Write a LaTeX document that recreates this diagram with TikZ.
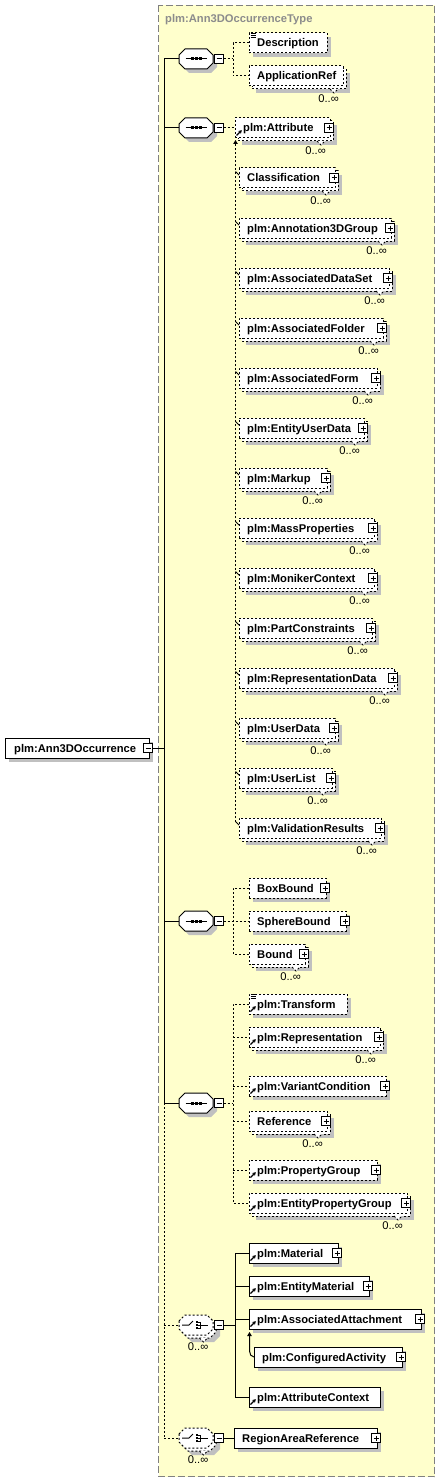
\documentclass[tikz,border=0pt]{standalone}
\usepackage{fontspec}
\setmainfont{Liberation Sans}
\usetikzlibrary{arrows.meta}
\definecolor{bgyellow}{RGB}{255,255,204}
\definecolor{shadowgray}{RGB}{192,192,192}
\definecolor{framegray}{RGB}{128,128,128}
\definecolor{titlegray}{RGB}{140,140,140}
\tikzset{
  lw/.style={line width=1pt},
  dsh/.style={dash pattern=on 2pt off 2pt},
  conn/.style={lw, black},
  dconn/.style={conn, dsh},
  elembox/.style={draw=black, lw, fill=white, minimum height=20pt, inner sep=0pt, outer sep=0pt, anchor=west},
  elemtext/.style={inner sep=0pt, anchor=base west, font=\fontsize{11.2}{13}\selectfont\bfseries},
  occtext/.style={inner sep=0pt, anchor=base east, font=\fontsize{11.2}{13}\selectfont},
  btnbox/.style={draw=black, solid, lw, fill=white, minimum size=9pt, inner sep=0pt, outer sep=0pt},
  plusbtn/.style={btnbox, path picture={
      \draw[black,lw,solid] ([xshift=2pt]path picture bounding box.west) -- ([xshift=-2pt]path picture bounding box.east);
      \draw[black,lw,solid] ([yshift=-2pt]path picture bounding box.north) -- ([yshift=2pt]path picture bounding box.south);}},
  minusbtn/.style={btnbox, path picture={
      \draw[black,lw,solid] ([xshift=2pt]path picture bounding box.west) -- ([xshift=-2pt]path picture bounding box.east);}},
  compnode/.style={inner sep=0pt, outer sep=0pt, minimum width=34pt, minimum height=20pt},
  subarrow/.style={-{Triangle[length=4pt,width=4.5pt]}},
}
% element box, single: name, left, right, cy, style, text
\newcommand\Elem[6]{%
  \pgfmathsetmacro\elw{#3-#2}%
  \fill[shadowgray] (#2+4,#4-6) rectangle (#3+4,#4+14);
  \node[elembox,#5,minimum width=\elw pt] (#1) at (#2,#4) {};
  \node[elemtext] (#1-t) at ([xshift=8pt,yshift=-4pt]#1.west) {#6};
}
% element box, multiple occurrence 0..inf
\newcommand\ElemM[6]{%
  \pgfmathsetmacro\elw{#3-#2}%
  \fill[shadowgray] (#2+7,#4-3) rectangle (#3+7,#4+17);
  \draw[lw,fill=white,#5] (#2+3,#4-7) rectangle (#3+3,#4+13);
  \filldraw[lw,fill=white,#5] (#3-13,#4+13) -- (#3-9,#4+17) -- (#3-5,#4+13);
  \node[elembox,#5,minimum width=\elw pt] (#1) at (#2,#4) {};
  \node[elemtext] (#1-t) at ([xshift=8pt,yshift=-4pt]#1.west) {#6};
  \node[occtext] (#1-o) at (#3-4,#4+26.5) {0..∞};
}
\newcommand\Plus[3]{\node[plusbtn] (#1) at (#2,#3) {};}
\newcommand\RefArrow[2]{\draw[black,line width=1.1pt,solid,-{Stealth[length=3.4pt,width=4pt]}] (#1+1.5,#2+7.5) -- (#1+6.8,#2+2.2);}
\newcommand\SimpIcon[2]{\foreach \d in {0.5,2.5,4.5}{\draw[black,line width=0.8pt,solid] (#1+1.5,#2-10+\d) -- (#1+6.5,#2-10+\d);}}
\newcommand\OctPath[3]{\path[#3] (#1-17,#2-4) -- (#1-11,#2-10) -- (#1+11,#2-10) -- (#1+17,#2-4) -- (#1+17,#2+4) -- (#1+11,#2+10) -- (#1-11,#2+10) -- (#1-17,#2+4) -- cycle;}
% sequence compositor: name, cy
\newcommand\Seq[2]{%
  \OctPath{200}{#2+4}{fill=shadowgray}
  \OctPath{196}{#2}{draw=black,lw,fill=white}
  \node[compnode] (#1) at (196,#2) {};
  \draw[black,lw] (185.5,#2) -- (207,#2);
  \foreach \dx in {-4,0,4}{\fill[black] (196.5+\dx-1.5,#2-1.5) rectangle (196.5+\dx+1.5,#2+1.5);}
  \node[minusbtn] (#1-b) at (219,#2) {};
}
% choice compositor, optional, 0..inf: name, cy
\newcommand\ChoiceM[2]{%
  \OctPath{203}{#2+7}{fill=shadowgray}
  \OctPath{199}{#2+3}{draw=black,lw,dsh,fill=white}
  \filldraw[lw,dsh,fill=white] (199.5,#2+13) -- (203.5,#2+17) -- (207.5,#2+13);
  \OctPath{196}{#2}{draw=black,lw,dsh,fill=white}
  \node[compnode] (#1) at (196,#2) {};
  \draw[black,lw] (182,#2) -- (189,#2) -- (193,#2-4);
  \foreach \dy in {-3,0,3}{\fill[black] (196,#2+\dy-1.1) rectangle (198.4,#2+\dy+1.1);}
  \draw[black,lw] (198.4,#2-3) -- (200,#2-3) -- (200,#2+3) -- (198.4,#2+3);
  \draw[black,lw] (198.4,#2) -- (207.5,#2);
  \node[occtext] (#1-o) at (208.5,#2+25.5) {0..∞};
  \node[minusbtn] (#1-b) at (219,#2) {};
}
\begin{document}
\begin{tikzpicture}[x=1pt,y=-1pt]
\useasboundingbox (0,0) rectangle (440,1482);
\draw[framegray, fill=bgyellow, line width=1pt, dash pattern=on 7pt off 3pt] (158.5,5.5) rectangle (434.5,1476.5);
\node[anchor=base west, inner sep=0pt, text=titlegray, font=\fontsize{11.2}{13}\selectfont\bfseries] (title) at (165,23) {plm:Ann3DOccurrenceType};

% ---------- main element
\fill[shadowgray] (9,742) rectangle (153,762);
\node[elembox, solid, minimum width=144pt] (main) at (5,748) {};
\node[elemtext] (main-t) at ([xshift=9pt,yshift=-4pt]main.west) {plm:Ann3DOccurrence};
\node[minusbtn] (main-b) at (148,748) {};

% ---------- trunk
\coordinate (tr-1) at (164,59);
\coordinate (tr-2) at (164,128);
\coordinate (tr-3) at (164,921);
\coordinate (tr-4) at (164,1103);
\coordinate (tr-5) at (164,1325);
\coordinate (tr-6) at (164,1438);
\coordinate (tr-m) at (164,748);

% ---------- compositors
\Seq{seq1}{59}
\Seq{seq2}{128}
\Seq{seq3}{921}
\Seq{seq4}{1103}
\ChoiceM{ch1}{1325}
\ChoiceM{ch2}{1438}

\draw[conn] (main-b.east) -- (tr-m);
\draw[conn] (tr-1) -- (tr-4);
\draw[dconn] (tr-4) -- (tr-6);
\draw[conn] (tr-1) -- (seq1.west);
\draw[conn] (tr-2) -- (seq2.west);
\draw[conn] (tr-3) -- (seq3.west);
\draw[conn] (tr-4) -- (seq4.west);
\draw[dconn] (tr-5) -- (ch1.west);
\draw[dconn] (tr-6) -- (ch2.west);

% ---------- sequence 1
\Elem{desc}{249}{327}{43}{dsh}{Description}
\SimpIcon{249}{43}
\ElemM{appref}{249}{343}{76}{dsh}{ApplicationRef}
\coordinate (j1) at (233,59);
\draw[dconn] (seq1-b.east) -- (j1);
\draw[dconn] (desc.west) -- (desc.west -| j1) -- (appref.west -| j1) -- (appref.west);

% ---------- sequence 2 (substitution group plm:Attribute)
\ElemM{attr}{235}{330}{128}{dsh}{plm:Attribute}
\Plus{attr-b}{329}{128}
\RefArrow{235}{128}
\draw[dconn] (seq2-b.east) -- (attr.west);

\ElemM{classif}{239}{335}{178}{dsh}{Classification}\Plus{classif-b}{334}{178}
\ElemM{annot}{239}{391}{228}{dsh}{plm:Annotation3DGroup}\Plus{annot-b}{390}{228}
\ElemM{adset}{239}{389}{278}{dsh}{plm:AssociatedDataSet}\Plus{adset-b}{388}{278}
\ElemM{afold}{239}{383}{328}{dsh}{plm:AssociatedFolder}\Plus{afold-b}{382}{328}
\ElemM{aform}{239}{377}{378}{dsh}{plm:AssociatedForm}\Plus{aform-b}{376}{378}
\ElemM{euser}{239}{364}{428}{dsh}{plm:EntityUserData}\Plus{euser-b}{363}{428}
\ElemM{markup}{239}{327}{478}{dsh}{plm:Markup}\Plus{markup-b}{326}{478}
\ElemM{mass}{239}{374}{528}{dsh}{plm:MassProperties}\Plus{mass-b}{373}{528}
\ElemM{moniker}{239}{374}{578}{dsh}{plm:MonikerContext}\Plus{moniker-b}{373}{578}
\ElemM{partc}{239}{372}{628}{dsh}{plm:PartConstraints}\Plus{partc-b}{371}{628}
\ElemM{repd}{239}{394}{678}{dsh}{plm:RepresentationData}\Plus{repd-b}{393}{678}
\ElemM{userd}{239}{335}{728}{dsh}{plm:UserData}\Plus{userd-b}{334}{728}
\ElemM{userl}{239}{332}{778}{dsh}{plm:UserList}\Plus{userl-b}{331}{778}
\ElemM{valid}{239}{381}{828}{dsh}{plm:ValidationResults}\Plus{valid-b}{380}{828}

\coordinate (sg-top) at (235.5,140);
\draw[dconn,subarrow] ([shift={(-3.5,-6)}]valid.west) -- (sg-top);
\foreach \m in {classif,annot,adset,afold,aform,euser,markup,mass,moniker,partc,repd,userd,userl,valid}{
  \draw[black,line width=0.8pt] ([shift={(-3.5,-6.5)}]\m.west) -- ([shift={(0,-3)}]\m.west);
}

% ---------- sequence 3
\Elem{boxb}{249}{326}{888}{dsh}{BoxBound}\Plus{boxb-b}{325}{888}
\Elem{sphere}{249}{346}{921}{dsh}{SphereBound}\Plus{sphere-b}{345}{921}
\ElemM{bound}{249}{305}{954}{dsh}{Bound}\Plus{bound-b}{304}{954}
\coordinate (j3) at (233,921);
\draw[dconn] (seq3-b.east) -- (sphere.west);
\draw[dconn] (boxb.west) -- (boxb.west -| j3) -- (bound.west -| j3) -- (bound.west);

% ---------- sequence 4
\Elem{transf}{249}{347}{1004}{dsh}{plm:Transform}
\SimpIcon{249}{1004}\RefArrow{249}{1004}
\ElemM{repr}{249}{380}{1037}{dsh}{plm:Representation}\Plus{repr-b}{379}{1037}\RefArrow{249}{1037}
\Elem{variant}{249}{386}{1086}{dsh}{plm:VariantCondition}\Plus{variant-b}{385}{1086}\RefArrow{249}{1086}
\ElemM{refer}{249}{327}{1121}{dsh}{Reference}\Plus{refer-b}{326}{1121}
\Elem{propg}{249}{377}{1170}{dsh}{plm:PropertyGroup}\Plus{propg-b}{376}{1170}\RefArrow{249}{1170}
\ElemM{epropg}{249}{407}{1203}{dsh}{plm:EntityPropertyGroup}\Plus{epropg-b}{406}{1203}\RefArrow{249}{1203}
\coordinate (j4) at (233,1103);
\draw[dconn] (seq4-b.east) -- (j4);
\draw[dconn] (transf.west) -- (transf.west -| j4) -- (epropg.west -| j4) -- (epropg.west);
\foreach \m in {repr,variant,refer,propg}{\draw[dconn] (\m.west -| j4) -- (\m.west);}

% ---------- choice 1
\Elem{mat}{249}{338}{1253}{solid}{plm:Material}\Plus{mat-b}{337}{1253}\RefArrow{249}{1253}
\Elem{emat}{249}{369}{1286}{solid}{plm:EntityMaterial}\Plus{emat-b}{368}{1286}\RefArrow{249}{1286}
\Elem{aatt}{249}{421}{1319}{solid}{plm:AssociatedAttachment}\Plus{aatt-b}{420}{1319}\RefArrow{249}{1319}
\Elem{cact}{254}{402}{1357}{solid}{plm:ConfiguredActivity}\Plus{cact-b}{401}{1357}
\Elem{actx}{249}{380}{1397}{solid}{plm:AttributeContext}\RefArrow{249}{1397}
\coordinate (jc) at (235,1325);
\draw[conn] (ch1-b.east) -- (jc);
\draw[conn] (mat.west) -- (mat.west -| jc) -- (actx.west -| jc) -- (actx.west);
\foreach \m in {emat,aatt}{\draw[conn] (\m.west -| jc) -- (\m.west);}
\coordinate (ca-top) at (249.5,1332);
\draw[conn,subarrow] (cact.west) to[out=180,in=-90] (249.5,1351) -- (ca-top);

% ---------- choice 2
\Elem{rar}{234}{377}{1438}{solid}{RegionAreaReference}\Plus{rar-b}{376}{1438}
\draw[conn] (ch2-b.east) -- (rar.west);
\end{tikzpicture}
\end{document}
